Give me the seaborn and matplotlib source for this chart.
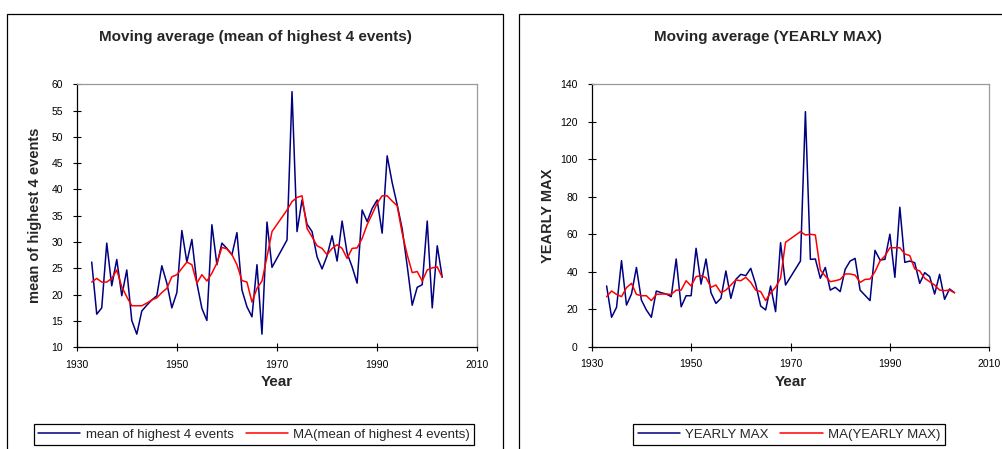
import matplotlib
matplotlib.use("Agg")
import matplotlib.pyplot as plt
from matplotlib.patches import Rectangle
import pandas as pd
import seaborn as sns

# Years on record (1970 and 1971 are missing)
years = list(range(1933, 1970)) + list(range(1972, 2004))

mean_top4 = [
    26.2, 16.3, 17.5, 29.8, 21.7, 26.7, 19.8, 24.7, 15.1, 12.5,
    16.9, 18.0, 19.0, 19.8, 25.5, 22.2, 17.5, 20.4, 32.2, 26.2,
    30.5, 22.2, 17.4, 15.1, 33.3, 25.7, 29.8, 28.8, 27.6, 31.8,
    20.9, 17.7, 15.8, 25.7, 12.5, 33.8, 25.2,
    30.4, 58.6, 32.0, 38.0, 33.4, 32.0, 27.2, 24.9, 27.4, 31.2,
    26.4, 34.0, 27.9, 25.3, 22.2, 36.1, 33.9, 36.4, 38.0, 31.7,
    46.4, 41.3, 37.1, 32.5, 25.5, 18.0, 21.4, 21.9, 34.0, 17.5,
    29.3, 23.3,
]
ma_mean_top4 = [
    22.4, 23.1, 22.4, 22.4, 23.1, 24.7, 21.5, 19.6, 17.9, 17.9,
    17.9, 18.4, 19.0, 19.4, 20.4, 21.2, 23.4, 23.8, 25.0, 26.2,
    25.7, 22.2, 23.8, 22.6, 24.1, 26.0, 29.0, 28.7, 27.6, 25.7,
    22.7, 22.4, 18.6, 21.2, 22.6, 27.2, 32.0,
    36.1, 37.7, 38.5, 38.8, 32.6, 31.0, 29.3, 28.8, 27.6, 28.8,
    29.5, 28.8, 26.9, 28.8, 28.9, 30.7, 33.3, 35.3, 37.4, 38.8,
    38.8, 37.8, 36.9, 31.7, 27.6, 24.2, 24.4, 22.6, 24.7, 25.1,
    25.3, 23.3,
]
yearly_max = [
    32.4, 15.7, 21.0, 45.9, 22.2, 28.1, 42.3, 24.9, 19.6, 15.7,
    29.7, 28.8, 28.1, 26.7, 46.8, 21.3, 27.2, 27.2, 52.5, 33.4,
    46.8, 28.8, 23.1, 25.8, 40.4, 25.8, 35.9, 38.6, 37.9, 41.8,
    33.3, 21.7, 19.6, 32.4, 18.7, 55.5, 32.9,
    45.7, 125.4, 46.6, 46.8, 36.5, 42.3, 30.2, 31.7, 29.4, 41.3,
    45.7, 47.1, 30.2, 27.4, 24.6, 51.4, 46.3, 46.6, 60.0, 37.0,
    74.4, 45.0, 45.7, 44.8, 33.8, 39.5, 37.4, 28.1, 38.6, 25.3,
    30.8, 28.8,
]
ma_yearly_max = [
    26.7, 29.7, 27.9, 26.7, 31.5, 33.8, 27.9, 27.2, 27.2, 24.6,
    27.9, 28.1, 28.1, 27.9, 30.2, 30.2, 35.2, 32.4, 37.4, 37.9,
    36.8, 31.7, 32.9, 28.8, 30.2, 32.9, 35.6, 35.2, 37.0, 34.3,
    30.2, 29.4, 24.6, 28.8, 31.7, 36.5, 55.7,
    61.4, 59.6, 60.0, 59.6, 40.9, 37.7, 34.7, 35.2, 35.9, 38.8,
    38.8, 38.2, 34.3, 35.9, 36.1, 40.0, 45.7, 48.4, 52.8, 52.8,
    52.8, 49.5, 48.6, 41.5, 40.4, 36.5, 34.7, 32.9, 30.2, 29.9,
    30.2, 28.8,
]

x_ticks = [1930, 1950, 1970, 1990, 2010]
left_yticks = list(range(10, 61, 5))
right_yticks = list(range(0, 141, 20))

df = pd.DataFrame({
    "Year": years,
    "mean of highest 4 events": mean_top4,
    "MA(mean of highest 4 events)": ma_mean_top4,
    "YEARLY MAX": yearly_max,
    "MA(YEARLY MAX)": ma_yearly_max,
})

sns.set_style("white")
plt.rcParams["font.family"] = ["Liberation Sans", "DejaVu Sans"]

W, H = 1003, 449
fig = plt.figure(figsize=(W / 100, H / 100), dpi=100)
fig.patch.set_facecolor("white")


def px_box(x0, x1, ytop, ybot):
    return [x0 / W, 1 - ybot / H, (x1 - x0) / W, (ybot - ytop) / H]


# Chart frames around each panel
frames = [(7.5, 503.3), (519.0, 1017.0)]
for fx0, fx1 in frames:
    fig.add_artist(Rectangle((fx0 / W, -0.1), (fx1 - fx0) / W, 1.1 - 14 / H,
                             transform=fig.transFigure, fill=False,
                             edgecolor="black", linewidth=0.9, clip_on=False))

navy = "#000080"
red = "#FF0000"

panels = [
    dict(box=px_box(76.7, 477.3, 84.3, 347.3), series="mean of highest 4 events",
         ylim=(10, 60), yticks=left_yticks,
         title="Moving average (mean of highest 4 events)",
         ylabel="mean of highest 4 events", ylabel_x=-0.0865,
         frame=frames[0], legend_x=254),
    dict(box=px_box(591.7, 989.3, 84.3, 346.7), series="YEARLY MAX",
         ylim=(0, 140), yticks=right_yticks,
         title="Moving average (YEARLY MAX)",
         ylabel="YEARLY MAX", ylabel_x=-0.0925,
         frame=frames[1], legend_x=789),
]

for p in panels:
    ax = fig.add_axes(p["box"])
    s = p["series"]
    sns.lineplot(data=df, x="Year", y=s, ax=ax, color=navy, linewidth=1.1,
                 label=s)
    sns.lineplot(data=df, x="Year", y=f"MA({s})", ax=ax, color=red,
                 linewidth=1.1, label=f"MA({s})")
    ax.set_xlim(1930, 2010)
    ax.set_ylim(*p["ylim"])
    ax.set_xticks(x_ticks)
    ax.set_yticks(p["yticks"])
    for side in ("left", "bottom"):
        ax.spines[side].set_color("black")
        ax.spines[side].set_linewidth(0.9)
    for side in ("top", "right"):
        ax.spines[side].set_color("#9a9a9a")
        ax.spines[side].set_linewidth(0.9)
    ax.tick_params(axis="both", direction="inout", length=6, width=0.8,
                   color="black", labelsize=7.5, labelcolor="black")
    ax.tick_params(axis="x", pad=6, bottom=True)
    ax.tick_params(axis="y", pad=7, left=True)
    ax.set_xlabel("Year", fontsize=11, fontweight="bold", labelpad=4)
    ax.set_ylabel(p["ylabel"], fontsize=10.5, fontweight="bold")
    ax.yaxis.set_label_coords(p["ylabel_x"], 0.5)

    # Title centred over the whole chart frame
    fx0, fx1 = p["frame"]
    fig.text((fx0 + fx1) / 2 / W, 1 - 36.5 / H, p["title"], fontsize=11,
             fontweight="bold", ha="center", va="center")

    handles, labels = ax.get_legend_handles_labels()
    ax.legend_.remove()
    leg = fig.legend(handles, labels, loc="center",
                     bbox_to_anchor=(p["legend_x"] / W, 1 - 434.5 / H),
                     ncol=2, fontsize=9.5, frameon=True, fancybox=False,
                     edgecolor="black", framealpha=1, handlelength=3.2,
                     handletextpad=0.4, columnspacing=0.9, borderpad=0.35,
                     borderaxespad=0)
    leg.get_frame().set_linewidth(0.9)

fig.savefig("out.png", dpi=100, facecolor="white")
